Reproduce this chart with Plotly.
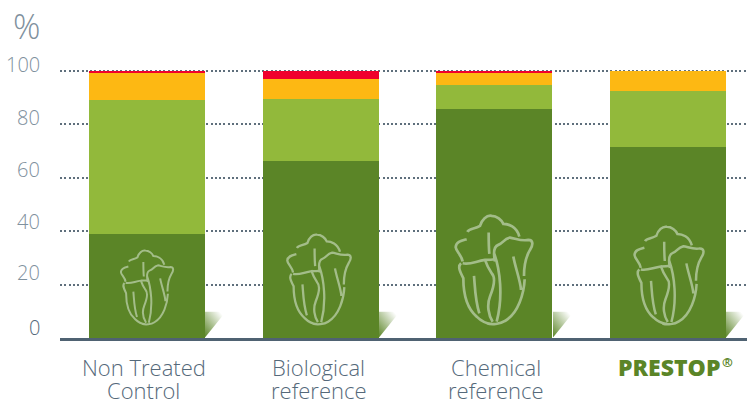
import base64
import plotly.graph_objects as go

categories = ["Non Treated Control", "Biological reference", "Chemical reference", "PRESTOP"]
label_line1 = ["Non Treated", "Biological", "Chemical", "PRESTOP"]
label_line2 = ["Control", "reference", "reference", ""]
healthy = [39, 66.4, 85.5, 71.3]
slight = [50.2, 23, 9.3, 21.2]
moderate = [9.8, 7.6, 4.2, 7.5]
severe = [1, 3, 1, 0]
tick_values = [0, 20, 40, 60, 80, 100]

DARK, LIGHT, ORANGE, RED = "#5b8527", "#92b93b", "#fdb813", "#f0002d"
GREY, SLATE = "#7f919e", "#55697a"
FONT = "Open Sans"

# Plot-area frame in window pixels (y range runs a little past 100 so its gridline shows)
Y_MAX = 101
L, R, B = 60, 747, 338
UNIT = 2.67
H = Y_MAX * UNIT
T = B - H
W = R - L
px = lambda x: (x - L) / W
py = lambda y: (B - y) / H

fig = go.Figure()
for name, vals, col in [("Healthy", healthy, DARK), ("Slight", slight, LIGHT),
                        ("Moderate", moderate, ORANGE), ("Severe", severe, RED)]:
    fig.add_bar(x=categories, y=vals, name=name, marker=dict(color=col, line_width=0), showlegend=False)

# ---- decoration: lettuce icon, drawn in its own 270x360 design box ----
ICON = [
    [(52,66),"C",(58,55),(75,58),(90,48),"C",(95,30),(110,15),(125,18),"C",(140,18),(155,30),(160,42),"C",(175,42),(200,50),(208,80)],
    [(50,88),"C",(35,92),(18,95),(17,112),"C",(18,125),(35,135),(38,155)],
    [(116,68),"C",(116,90),(116,110),(118,132)],
    [(135,155),"C",(130,130),(130,110),(145,105),"C",(160,100),(160,88),(180,83),"C",(195,85),(215,95),(235,90),"C",(250,90),(250,105),(240,120),"C",(228,140),(222,170),(222,198)],
    [(224,208),"C",(222,250),(205,310),(165,333),"C",(150,343),(125,345),(110,340)],
    [(133,132),"C",(150,180),(160,260),(140,335)],
    [(190,140),"C",(195,170),(212,215),(213,240)],
    [(38,160),"C",(60,165),(75,155),(105,150),"C",(110,165),(115,175),(125,190),"C",(140,205),(130,235),(120,260),"C",(110,285),(115,315),(128,335)],
    [(105,150),"C",(118,150),(125,150),(135,148)],
    [(33,160),"C",(22,170),(30,185),(40,205),"C",(40,240),(45,290),(80,320),"C",(95,335),(105,340),(125,342)],
    [(72,198),"C",(75,230),(75,270),(88,310)],
]

def icon_path(cx, h):
    s = h / 330
    def p(pt):
        return f"{px(cx + (pt[0] - 132) * s):.5f},{py(325 - (345 - pt[1]) * s):.5f}"
    out = []
    for sub in ICON:
        out.append("M" + p(sub[0]))
        for item in sub[1:]:
            out.append(item if isinstance(item, str) else p(item))
    return " ".join(out)

for cx, h, lw in zip([147, 319, 494, 669], [75, 91, 110, 99], [2, 2.3, 2.7, 2.5]):
    fig.add_shape(type="path", path=icon_path(cx, h), xref="paper", yref="paper",
                  line=dict(color="#a3bd89", width=lw), fillcolor="rgba(0,0,0,0)", layer="above")

# ---- decoration: faded triangle at each bar's foot ----
svg = ('<svg xmlns="http://www.w3.org/2000/svg" width="21" height="26" viewBox="0 0 21 26">'
       '<defs><linearGradient id="g" x1="0" y1="1" x2="1" y2="0">'
       '<stop offset="0" stop-color="#5b8527"/><stop offset="0.85" stop-color="#ffffff"/></linearGradient></defs>'
       '<polygon points="0,26 0,0 21,0" fill="url(#g)"/></svg>')
uri = "data:image/svg+xml;base64," + base64.b64encode(svg.encode()).decode()
for x0 in [205, 379, 553, 726]:
    fig.add_layout_image(source=uri, xref="paper", yref="paper", x=px(x0), y=py(311.5),
                         sizex=21 / W, sizey=26 / H, sizing="stretch",
                         xanchor="left", yanchor="top", layer="above")

# ---- text ----
light = dict(family=FONT, size=20, color=GREY, weight=300)
for v, shift in zip(tick_values, [11, 12, 10, 8, 7, 6]):
    f = dict(light)
    if v == 0:
        f["color"] = SLATE
    fig.add_annotation(x=px(42), y=v, xref="paper", yref="y", text=str(v), showarrow=False,
                       xanchor="right", yanchor="middle", yshift=shift, font=f)
fig.add_annotation(x=px(42), y=py(26), xref="paper", yref="paper", text="%", showarrow=False,
                   xanchor="right", yanchor="middle", font=dict(family=FONT, size=34, color=GREY, weight=300))

for c, a, b, sh in zip(categories, label_line1, label_line2, [-3, -2, 2, 1]):
    bold = a == "PRESTOP"
    f = dict(family=FONT, size=23, color=DARK, weight=800) if bold else dict(family=FONT, size=22, color=SLATE, weight=300)
    fig.add_annotation(x=c, y=py(366.5), xref="x", yref="paper", text=a, showarrow=False,
                       xanchor="center", yanchor="middle", xshift=sh, font=f)
    if b:
        fig.add_annotation(x=c, y=py(390), xref="x", yref="paper", text=b, showarrow=False,
                           xanchor="center", yanchor="middle", xshift=sh, font=f)
# registered-trademark mark beside the PRESTOP label
fig.add_annotation(x=categories[3], y=py(362), xref="x", yref="paper", text="®", showarrow=False,
                   xanchor="center", yanchor="middle", xshift=60,
                   font=dict(family=FONT, size=13, color=DARK, weight=700))

fig.update_layout(
    width=747, height=400, barmode="stack", bargap=0.332,
    margin=dict(l=L, r=747 - R, t=T, b=400 - B, pad=0, autoexpand=False),
    paper_bgcolor="white", plot_bgcolor="white",
    xaxis=dict(type="category", range=[-0.5, 3.455], showticklabels=False, ticks="",
               showline=True, linecolor="#4f6272", linewidth=2.5, showgrid=False, zeroline=False, fixedrange=True),
    yaxis=dict(range=[0, Y_MAX], tickvals=tick_values, showticklabels=False, ticks="", showline=False,
               showgrid=True, gridcolor="#5f6f7c", gridwidth=2, griddash="2px,2.3px", zeroline=False, fixedrange=True),
)
fig.write_html("out.html", config=dict(displayModeBar=False),
               post_script="document.body.style.margin='0';document.documentElement.style.overflow='hidden';")
